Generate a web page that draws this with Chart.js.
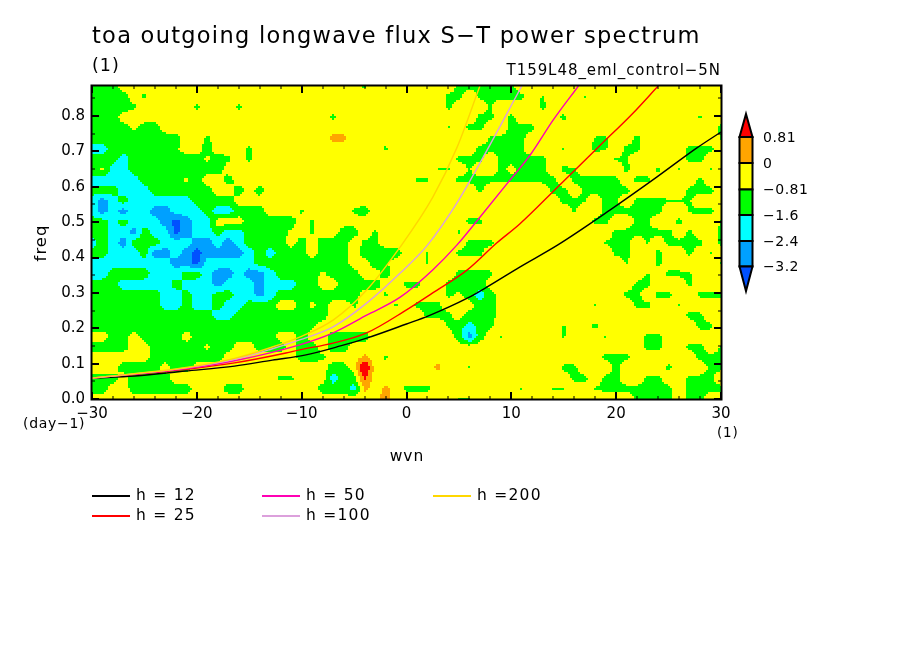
<!DOCTYPE html>
<html><head><meta charset="utf-8">
<style>html,body{margin:0;padding:0;background:#fff}canvas{display:block}</style>
<script src="https://cdn.jsdelivr.net/npm/chart.js@4"></script>
</head><body><canvas id="c" width="904" height="654"></canvas>
<script>
const titleText = "toa outgoing longwave flux S\u2212T power spectrum";
const wavenumbers = [-30,-29,-28,-27,-26,-25,-24,-23,-22,-21,-20,-19,-18,-17,-16,-15,-14,-13,-12,-11,-10,-9,-8,-7,-6,-5,-4,-3,-2,-1,0,1,2,3,4,5,6,7,8,9,10,11,12,13,14,15,16,17,18,19,20,21,22,23,24,25,26,27,28,29,30];
const frequencies = [.885,.8555,.826,.7965,.767,.7375,.708,.6785,.649,.6195,.59,.5605,.531,.5015,.472,.4425,.413,.3835,.354,.3245,.295,.2655,.236,.2065,.177,.1475,.118,.0885,.059,.0295,0];
// value read for each letter (log10 power, inside the contour band)
const codeValues = {'.':-0.4,y:-0.65,h:-0.95,g:-1.2,c:-2.0,b:-2.8,d:-3.5,o:0.4,p:0.2,r:2.0,s:1.0};
// the isolated patches on the eastern side only just drop below the -0.81 contour
const eastValues = {h:-0.87,g:-0.98};
const cellRows = [
"ggg....... .......... ......h... .....ggghg g......... h......... .",
"gggg.h.... .......... .......... ....gg.ggg gg.h...h.. .......... .",
"ggggh..... h...h..... .......... ....g...h. ...g...... .......... .",
"ggg....... .......... ...h...... .......gg. g....g.... ........h. .",
"ggggygg... .......... .......... ....h.gg.. ggg....... .......... g",
"ggggggggg. .h........ ...pp..... ........hg gg....h.hh ..g....... h",
"ccggggggh. .g...h.... ........h. .......ggg gh...h..gh .gg....ggg .",
"gggcgggggg gygh.h.... .......... .....ggg.g gggg...... hh.....gg. .",
"gyccgggggg ggg....... .......... ...hh.h..g yggg.gh... .g..g.h..h .",
"cccccggggy g..g...... .......... .hh..ggggg ggggg.gggg g.gg....g. .",
"gggcccgggg gg..g.g... .......... .......g.. ....gg.ggg gg.....ggg .",
"cbcgcccccc gggg...... .......... .......... .....ggh.g h.ggghhh.. .",
"cbcbccbbcc cgccggg... h....hg... .......... ......h..g ggggg..hgg .",
"ggcgcccbdb cc...ggggg .h........ ......gg.. ........gg ..gh..g... h",
"ggccbgccdb ccgccggggy .h..gg.h.. .....h.... .......... gggggg.g.. g",
"cgcbgggccc bbcbcgggg. g.ggg.hh.. ......ggg. .........h gg.h.gggg. g",
"ggcccgbbcb dbbbbcgcgg g.ggg.gggg ..h..ggg.. .......... gg..g..g.h .",
"ccccccccbb dcccccgggg ggggg..gh. ..h....... .......... .h..g..... h",
"ccggggcccg gcbbcbbcgg ggyggg..g. .....gggg. .......... ...h.ggh.. .",
"gggcccccgc ccbcccbccc gg..gggg.. gg..gggg.. .......... ..gg...g.. .",
"gggggggccg ccggccbcgg gggggg..h. ....gygcg. .......... .gg.gg..gg g",
"gggggggccg ccgccggg.. gyg..h...h .ggg...gg. ........h. ..gg..h... .",
"gggggggggg ggccgggggg ggg....... ..ggg.ggg. .......... ....h..gg. .",
"gggggggggg gggggggggg gh........ ....hgcgh. .....h..g. ........gg .",
"..gg.gggg. gggggggg.. g..gggg... .....gbg.h .....h...h ...gg..... .",
"gggg..gggg gygg..ggg. gg.gg..... .......... .......... ...gg..gg. h",
"......gggg ggg....... ggh...p.h. .......... .........g gg......gg g",
"...gggg.gg .......... ...gg.r... ...p..h... .....gg... g....g...g g",
"ggg.gggg.. ........hh ...cggs... .......... ......gg.g g..gg..ggg .",
"gg..gggggg ...gg..... ..gggcp.p. ggg....... .h..hh..hg gggggg.ggg g",
".......... .......... ........o. .....hh... .......... ..gggg.gg. ."
];
const bandEdges = [-3.2,-2.4,-1.6,-0.81,0,0.81];
const bandColors = ["#0050ff","#00a0ff","#00ffff","#00ff00","#ffff00","#ffa500","#ff0000"];
const barLabels = ["0.81","0","\u22120.81","\u22121.6","\u22122.4","\u22123.2"];
const curveNames = ["h = 12","h = 25","h = 50","h =100","h =200"];
const curveColors = ["#000000","#ff0000","#ff00b4","#dca0dc","#ffd700"];
const h12Wvn = [-30,-25.9,-21.1,-16.4,-12.8,-9.7,-6.3,-3.8,0,2.1,5.8,7.7,10.8,14.4,19.4,23.9,27.7,30];
const h12Freq = [.059,.065,.079,.093,.11,.124,.15,.172,.212,.235,.285,.317,.373,.435,.534,.628,.71,.755];
const h25Wvn = [-30,-21,-16.4,-11.5,-10.2,-7,-3.8,0,2.5,5.8,8.6,10.8,14.4,18.5,21.6,24];
const h25Freq = [.059,.084,.102,.13,.139,.158,.187,.252,.30,.365,.441,.495,.599,.718,.808,.885];
const h50Wvn = [-30,-21,-16.4,-10.2,-7,-3.8,-0.6,2.5,4.8,7,9.9,11.8,14,16.4];
const h50Freq = [.059,.086,.108,.153,.187,.237,.288,.365,.435,.514,.62,.69,.789,.885];
const h100Wvn = [-30,-21,-16.4,-13,-10.2,-7,-3.8,-0.6,2,4.8,7,11];
const h100Freq = [.059,.088,.112,.14,.167,.204,.271,.356,.435,.554,.667,.885];
const h200Wvn = [-30,-21,-16.4,-13,-10.2,-7,-3.8,-0.6,2.5,4.8,7];
const h200Freq = [.059,.089,.115,.145,.175,.223,.308,.43,.57,.71,.885];
const curveWvn = [h12Wvn,h25Wvn,h50Wvn,h100Wvn,h200Wvn];
const curveFreq = [h12Freq,h25Freq,h50Freq,h100Freq,h200Freq];
const xMajor = [-30,-20,-10,0,10,20,30];
const xMinor = [-28,-26,-24,-22,-18,-16,-14,-12,-8,-6,-4,-2,2,4,6,8,12,14,16,18,22,24,26,28];
const yMajor = [0,.1,.2,.3,.4,.5,.6,.7,.8];
const yMinor = [.05,.15,.25,.35,.45,.55,.65,.75,.85];

const isEast = (i,k) => i>=30 && !(k>=19 && k<=24 && i>=35 && i<=38);
const grid = cellRows.map((r,k) => [...r.replace(/ /g,'')].map((ch,i) =>
  (isEast(i,k) && eastValues[ch]!==undefined) ? eastValues[ch] : codeValues[ch]));
const cells = [];
grid.forEach((row,k) => row.forEach((v,i) => cells.push({x:wavenumbers[i], y:frequencies[k], v})));

function bandColor(v){ let i=0; while(i<bandEdges.length && v>=bandEdges[i]) i++; return bandColors[i]; }
function field(wvn,f){
  const u = Math.min(59.999,Math.max(0,wvn-wavenumbers[0]));
  const w = Math.min(29.999,Math.max(0,(frequencies[0]-f)/(frequencies[0]/30)));
  const i=Math.floor(u), k=Math.floor(w), a=u-i, b=w-k;
  return (grid[k][i]*(1-a)+grid[k][i+1]*a)*(1-b)+(grid[k+1][i]*(1-a)+grid[k+1][i+1]*a)*b;
}
const FONT = '"DejaVu Sans"';
function label(ctx,t,x,y,size,sp,align){
  ctx.save(); ctx.font=`${size}px ${FONT}`; ctx.letterSpacing=sp+'px'; ctx.fillStyle='#000';
  ctx.textAlign=align||'left'; ctx.textBaseline='middle'; ctx.fillText(t,x,y); ctx.restore();
}
const contour = {
  id:'contour',
  beforeDatasetsDraw(chart){
    const {ctx,chartArea:a,scales:{x,y}} = chart, s=2;
    for(let py=a.top;py<a.bottom;py+=s) for(let px=a.left;px<a.right;px+=s){
      ctx.fillStyle = bandColor(field(x.getValueForPixel(px+1),y.getValueForPixel(py+1)));
      ctx.fillRect(px,py,s,s);
    }
  },
  afterDatasetsDraw(chart){
    const {ctx,chartArea:a,scales:{x,y}} = chart;
    ctx.save(); ctx.fillStyle='#000';
    const vt=(v,l,w)=>{const p=Math.round(x.getPixelForValue(v));ctx.fillRect(p-w/2,a.top,w,l);ctx.fillRect(p-w/2,a.bottom-l,w,l);};
    const ht=(v,l,w)=>{const p=Math.round(y.getPixelForValue(v));ctx.fillRect(a.left,p-w/2,l,w);ctx.fillRect(a.right-l,p-w/2,l,w);};
    xMajor.forEach(v=>vt(v,7,2)); xMinor.forEach(v=>vt(v,3,1));
    yMajor.forEach(v=>ht(v,7,2)); yMinor.forEach(v=>ht(v,3,1));
    ctx.lineWidth=2; ctx.strokeStyle='#000'; ctx.strokeRect(a.left-.5,a.top-.5,a.right-a.left+1,a.bottom-a.top+1);
    // titles
    label(ctx,titleText,92,37,22.5,1.27);
    label(ctx,"(1)",92,66,17.5,1);
    label(ctx,"T159L48_eml_control\u22125N",721,71,15,0.95,'right');
    label(ctx,"(day\u22121)",23,424,14,0.7);
    label(ctx,"(1)",717,433,13.5,0.8);
    label(ctx,"wvn",407,457,15.5,1,'center');
    ctx.save(); ctx.translate(42,243); ctx.rotate(-Math.PI/2); label(ctx,"freq",0,0,16.5,1,'center'); ctx.restore();
    // legend
    const lx=[92,92,262,262,433], ly=[496,516,496,516,496];
    curveNames.forEach((n,i)=>{
      ctx.fillStyle=curveColors[i]; ctx.fillRect(lx[i],ly[i]-1,38,2);
      label(ctx,n,lx[i]+44,ly[i],15.5,1.25);
    });
    // colour bar
    const bx0=739.5,bx1=752.5,edges=[137,163,189.5,215,241,266.5];
    ctx.lineWidth=2; ctx.strokeStyle='#000';
    const poly=(pts,c)=>{ctx.beginPath();pts.forEach((p,i)=>i?ctx.lineTo(p[0],p[1]):ctx.moveTo(p[0],p[1]));ctx.closePath();ctx.fillStyle=c;ctx.fill();ctx.stroke();};
    poly([[746,114],[bx1,edges[0]],[bx0,edges[0]]],bandColors[6]);
    for(let i=0;i<5;i++) poly([[bx0,edges[i]],[bx1,edges[i]],[bx1,edges[i+1]],[bx0,edges[i+1]]],bandColors[5-i]);
    poly([[bx0,edges[5]],[bx1,edges[5]],[746,291]],bandColors[0]);
    barLabels.forEach((t,i)=>{ label(ctx,t,763,edges[i]+1,14,0.5); });
    ctx.restore();
  }
};
new Chart(document.getElementById('c'),{
  type:'scatter',
  data:{datasets:[
    {label:'power',data:cells,pointRadius:0,showLine:false},
    ...curveNames.map((n,i)=>({label:n,data:curveWvn[i].map((w,j)=>({x:w,y:curveFreq[i][j]})),
      showLine:true,pointRadius:0,borderColor:curveColors[i],borderWidth:1.4,cubicInterpolationMode:'monotone'}))
  ].reverse()},
  options:{
    responsive:false,devicePixelRatio:1,animation:false,
    layout:{padding:{left:0,top:86,right:183,bottom:234}},
    plugins:{legend:{display:false},tooltip:{enabled:false},title:{display:false}},
    scales:{
      x:{type:'linear',min:-30,max:30,afterFit(s){s.height=21;},border:{display:false},
         grid:{display:false,drawTicks:false},
         ticks:{stepSize:10,autoSkip:false,maxRotation:0,padding:6,color:'#000',font:{family:'DejaVu Sans',size:15},
                callback:v=>String(v).replace('-','\u2212')}},
      y:{type:'linear',min:0,max:.885,afterFit(s){s.width=92;},border:{display:false},
         grid:{display:false,drawTicks:false},
         ticks:{stepSize:.1,includeBounds:false,autoSkip:false,padding:7,color:'#000',font:{family:'DejaVu Sans',size:15},
                callback:v=>v.toFixed(1)}}
    }
  },
  plugins:[contour]
});
</script></body></html>
